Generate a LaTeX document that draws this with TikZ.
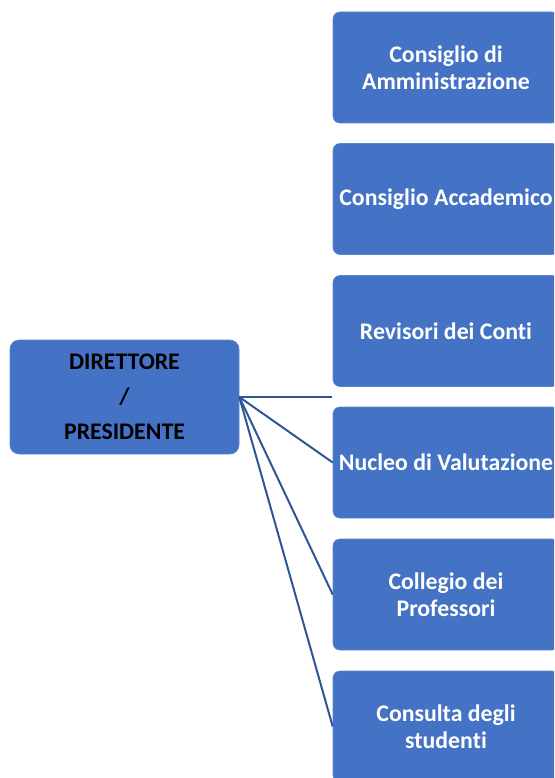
\documentclass[tikz,border=0pt]{standalone}
\usepackage{fontspec}
\setmainfont{Carlito}[Ligatures={NoCommon,NoContextual}]
\definecolor{boxblue}{HTML}{4472C4}
\definecolor{boxedge}{HTML}{5B84CC}
\definecolor{linkblue}{HTML}{2F5597}
\begin{document}
\begin{tikzpicture}[x=1pt,y=-1pt,
  orgbox/.style={draw=boxedge,line width=0.6pt,fill=boxblue,rounded corners=7pt,minimum width=226pt,minimum height=111pt,inner sep=0pt,align=center,text=white,font=\fontsize{23.8}{27}\selectfont\bfseries},
  topbox/.style={draw=boxedge,line width=0.6pt,fill=boxblue,rounded corners=9pt,minimum width=229pt,minimum height=114pt,inner sep=0pt,align=center,text=black,font=\fontsize{23.8}{35}\selectfont\bfseries},
  link/.style={draw=linkblue,line width=2pt}]
\useasboundingbox (0,0) rectangle (554,778);
\clip (0,0) rectangle (554,778);
\node[topbox] (dir) at (124.5,397) {DIRETTORE\\/\\PRESIDENTE};
\node[orgbox] (b1) at (446,67.5) {Consiglio di\\Amministrazione};
\node[orgbox] (b2) at (446,199) {Consiglio Accademico};
\node[orgbox] (b3) at (446,331) {Revisori dei Conti};
\node[orgbox] (b4) at (446,462.5) {Nucleo di Valutazione};
\node[orgbox] (b5) at (446,594.5) {Collegio dei\\Professori};
\node[orgbox] (b6) at (446,726.5) {Consulta degli\\studenti};
\coordinate (gap) at (332,397);
\draw[link] (dir.east) -- (gap);
\draw[link] (dir.east) -- (b4.west);
\draw[link] (dir.east) -- (b5.west);
\draw[link] (dir.east) -- (b6.west);
\end{tikzpicture}
\end{document}
